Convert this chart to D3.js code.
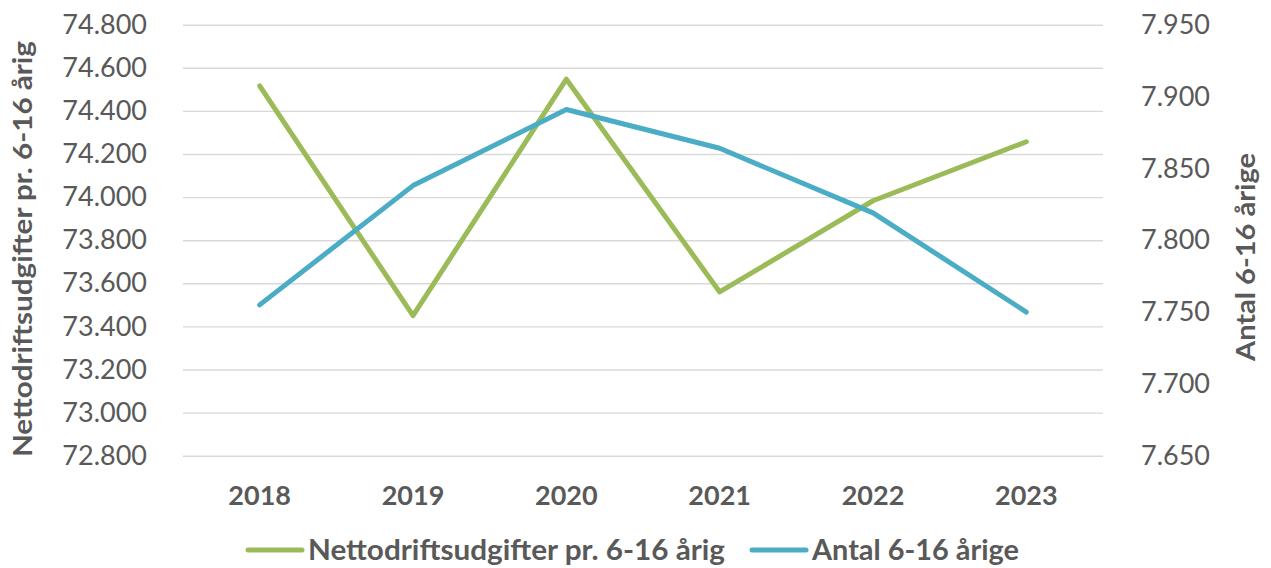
<!DOCTYPE html>
<html>
<head>
<meta charset="utf-8">
<script src="https://cdn.jsdelivr.net/npm/d3@7"></script>
<style>
  html, body { margin: 0; padding: 0; background: #fff; }
  svg { display: block; font-family: Lato, "Open Sans", sans-serif; }
</style>
</head>
<body>
<div id="page"></div>
<script>
(function() {

  "use strict";

  var years = [ "2018", "2019", "2020", "2021", "2022", "2023" ];
  var netto = [ 74516, 73450, 74547, 73560, 73983, 74257 ];
  var antal = [ 7755, 7838, 7891, 7864, 7819, 7750 ];
  var leftTicks = [ 72800, 73000, 73200, 73400, 73600, 73800, 74000, 74200, 74400, 74600, 74800 ];
  var rightTicks = [ 7650, 7700, 7750, 7800, 7850, 7900, 7950 ];

  var series = [
    { name: "Nettodriftsudgifter pr. 6-16 årig", values: netto, color: "#9BBB59", axis: "left" },
    { name: "Antal 6-16 årige", values: antal, color: "#4BACC6", axis: "right" }
  ];

  /* * * * * * * * * * * * * * * * * * * */

  var W = 1271, H = 568,
    plot = { left: 183, right: 1103, top: 24.7, bottom: 455.7 },
    textColor = "#595959";

  // danish style thousands: 74800 -> "74.800"
  var fmt = function( v ) {
    return d3.format( ".3f" )( v / 1000 );
  };

  var svg = d3.select( "#page" ).append( "svg" )
    .attr( "width", W )
    .attr( "height", H );

  var x = d3.scaleBand()
    .domain( years )
    .range( [ plot.left, plot.right ] );

  var yL = d3.scaleLinear()
    .domain( [ 72800, 74800 ] )
    .range( [ plot.bottom, plot.top ] );

  var yR = d3.scaleLinear()
    .domain( [ 7650, 7950 ] )
    .range( [ plot.bottom, plot.top ] );

  /* gridlines */
  svg.append( "g" )
    .attr( "transform", "translate(" + plot.left + ",0)" )
    .call( d3.axisLeft( yL ).tickValues( leftTicks ).tickSize( -( plot.right - plot.left ) ).tickFormat( "" ) )
    .call( function( g ) {
      g.select( ".domain" ).remove();
      g.selectAll( "line" ).attr( "stroke", "#D9D9D9" ).attr( "stroke-width", 1.4 );
    });

  function styleTicks( g ) {
    g.select( ".domain" ).remove();
    g.selectAll( "text" )
      .attr( "fill", textColor )
      .style( "font-size", "27px" )
      .style( "font-family", "Lato, sans-serif" );
  }

  /* left axis labels */
  svg.append( "g" )
    .attr( "transform", "translate(147,0)" )
    .call( d3.axisLeft( yL ).tickValues( leftTicks ).tickSize( 0 ).tickPadding( 0 ).tickFormat( fmt ) )
    .call( styleTicks );

  /* right axis labels */
  svg.append( "g" )
    .attr( "transform", "translate(1141,0)" )
    .call( d3.axisRight( yR ).tickValues( rightTicks ).tickSize( 0 ).tickPadding( 0 ).tickFormat( fmt ) )
    .call( styleTicks );

  /* x axis labels */
  svg.append( "g" )
    .attr( "transform", "translate(0,486)" )
    .call( d3.axisBottom( x ).tickSize( 0 ).tickPadding( 0 ) )
    .call( styleTicks )
    .call( function( g ) {
      g.selectAll( "text" )
        .attr( "dy", "0.72em" )
        .style( "font-weight", "bold" );
    });

  /* axis titles */
  svg.append( "text" )
    .attr( "transform", "translate(32,249) rotate(-90)" )
    .attr( "text-anchor", "middle" )
    .attr( "fill", textColor )
    .attr( "textLength", 416 )
    .attr( "lengthAdjust", "spacingAndGlyphs" )
    .style( "font-size", "27px" )
    .style( "font-weight", "bold" )
    .text( "Nettodriftsudgifter pr. 6-16 årig" );

  svg.append( "text" )
    .attr( "transform", "translate(1255,257) rotate(-90)" )
    .attr( "text-anchor", "middle" )
    .attr( "fill", textColor )
    .attr( "textLength", 208 )
    .attr( "lengthAdjust", "spacingAndGlyphs" )
    .style( "font-size", "27px" )
    .style( "font-weight", "bold" )
    .text( "Antal 6-16 årige" );

  /* lines */
  series.forEach( function( s ) {
    var yScale = s.axis === "left" ? yL : yR;
    var line = d3.line()
      .x( function( d, i ) { return x( years[ i ] ) + x.bandwidth() / 2; } )
      .y( function( d ) { return yScale( d ); } );

    svg.append( "path" )
      .datum( s.values )
      .attr( "d", line )
      .attr( "fill", "none" )
      .attr( "stroke", s.color )
      .attr( "stroke-width", 5 )
      .attr( "stroke-linecap", "round" )
      .attr( "stroke-linejoin", "round" );
  });

  /* legend */
  var legendX = [ 248, 752 ],
    legendW = [ 417, 207 ];
  var legend = svg.append( "g" );
  series.forEach( function( s, i ) {
    var g = legend.append( "g" ).attr( "transform", "translate(" + legendX[ i ] + ",550)" );
    g.append( "line" )
      .attr( "x1", 0 ).attr( "x2", 54 )
      .attr( "stroke", s.color )
      .attr( "stroke-width", 5 )
      .attr( "stroke-linecap", "round" );
    g.append( "text" )
      .attr( "x", 60 )
      .attr( "dy", "0.36em" )
      .attr( "fill", textColor )
      .attr( "textLength", legendW[ i ] )
      .attr( "lengthAdjust", "spacingAndGlyphs" )
      .style( "font-size", "28px" )
      .style( "font-weight", "bold" )
      .text( s.name );
  });

})();
</script>
</body>
</html>
